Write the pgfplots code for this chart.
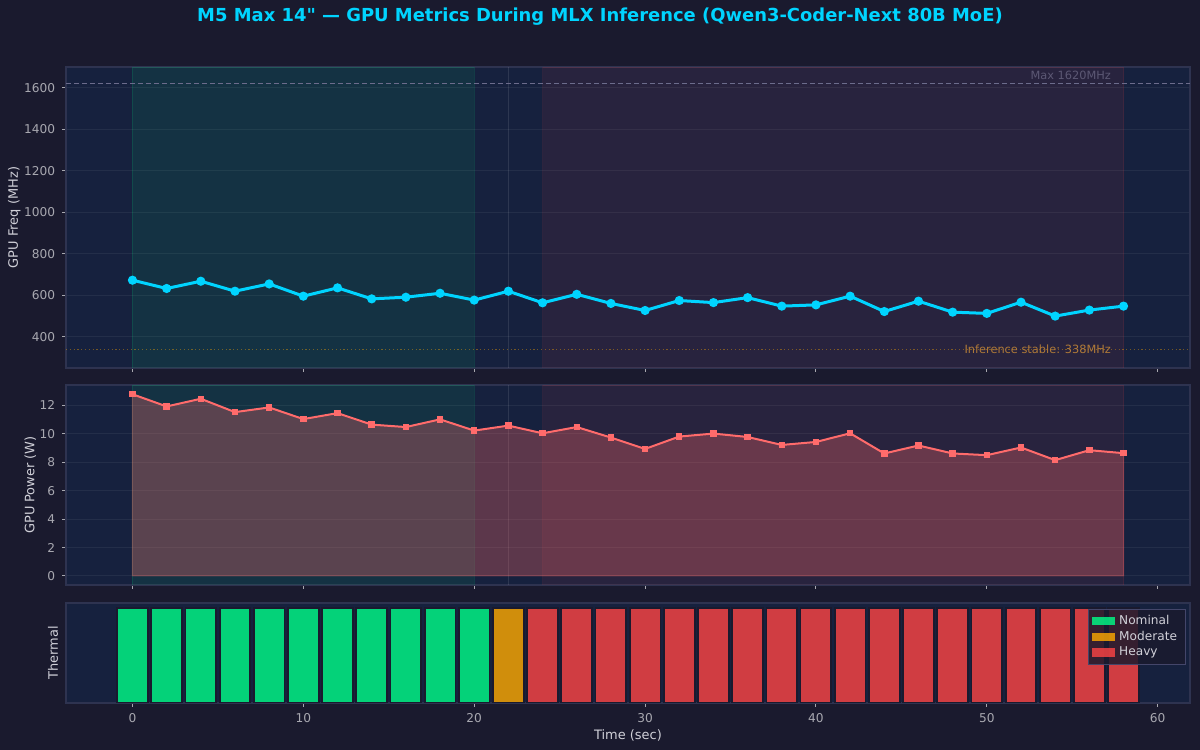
\documentclass[border=0pt]{standalone}
\usepackage{fontspec}
\setmainfont{DejaVu Sans}[Ligatures=TeXOff]
\usepackage{pgfplots}
\usepackage{pgfplotstable}
\pgfplotsset{compat=1.18}

\definecolor{figbg}{HTML}{1A1A2E}
\definecolor{axbg}{HTML}{16213E}
\definecolor{freqc}{HTML}{00D4FF}
\definecolor{powc}{HTML}{FF6B6B}
\definecolor{nomc}{HTML}{00FF88}
\definecolor{modc}{HTML}{FFAA00}
\definecolor{heavyc}{HTML}{FF4444}
\definecolor{spine}{HTML}{2E3350}
\definecolor{tickc}{HTML}{A8A8B0}
\definecolor{labc}{HTML}{D0D0D8}
\definecolor{maxc}{HTML}{6C6C8C}
\definecolor{maxtxt}{HTML}{5C5874}
\definecolor{stabtxt}{HTML}{B07A38}
\definecolor{legedge}{HTML}{44466A}

\pgfplotstableread{
t freq power
0 673 12.79
2 633 11.93
4 668 12.47
6 620 11.53
8 655 11.86
10 596 11.04
12 636 11.46
14 583 10.65
16 591 10.48
18 610 11.02
20 577 10.23
22 620 10.58
24 564 10.04
26 605 10.48
28 561 9.74
30 527 8.94
32 575 9.81
34 565 10.02
36 589 9.78
38 548 9.22
40 554 9.43
42 596 10.04
44 522 8.62
46 572 9.18
48 519 8.62
50 513 8.50
52 567 9.04
54 500 8.15
56 529 8.85
58 548 8.64
}\gpudata

\pgfplotsset{
  panel/.style={
    scale only axis, width=562bp,
    xmin=-3.89, xmax=61.89,
    axis background/.style={fill=axbg},
    axis line style={spine, line width=0.6bp},
    tick style={tickc, line width=0.5bp},
    tick align=outside, major tick length=1.9bp,
    xtick={0,10,...,60},
    xtick pos=bottom, ytick pos=left,
    ticklabel style={font=\fontsize{6.1}{7}\selectfont, text=tickc},
    label style={font=\fontsize{6.5}{8}\selectfont, text=labc},
    /pgf/number format/assume math mode=true,
    /pgf/number format/1000 sep={},
    scaled ticks=false,
    major grid style={white, opacity=0.06, line width=0.5bp},
    clip=true,
  }
}

\begin{document}
\begin{tikzpicture}
\fill[figbg] (0,0) rectangle (600bp,375bp);
\useasboundingbox (0,0) rectangle (600bp,375bp);

\node[font=\bfseries\fontsize{9}{11}\selectfont, text=freqc] at (300bp,366.5bp)
  {M5 Max 14" — GPU Metrics During MLX Inference (Qwen3-Coder-Next 80B MoE)};

% ---------- Frequency panel ----------
\begin{axis}[panel, at={(33bp,191bp)}, anchor=south west, height=150.5bp,
  ymin=250, ymax=1700, ytick={400,600,...,1600}, xticklabels={},
  ymajorgrids, ylabel={GPU Freq (MHz)}, ylabel shift=-5bp]
\addplot[draw=nomc, draw opacity=0.12, fill=nomc, fill opacity=0.08]
  coordinates {(0,250) (20,250) (20,1700) (0,1700)} -- cycle;
\addplot[draw=heavyc, draw opacity=0.1, fill=heavyc, fill opacity=0.08]
  coordinates {(24,250) (58,250) (58,1700) (24,1700)} -- cycle;
\addplot[white, opacity=0.1, line width=0.5bp] coordinates {(22,250) (22,1700)};
\addplot[maxc, line width=0.6bp, dash pattern=on 2.6bp off 1.4bp]
  coordinates {(-3.89,1620) (61.89,1620)};
\addplot[modc, opacity=0.4, line width=0.6bp, dash pattern=on 0.6bp off 1.3bp]
  coordinates {(-3.89,338) (61.89,338)};
\node[anchor=south east, inner sep=1bp, text=maxtxt, font=\fontsize{5.7}{6.5}\selectfont]
  at (axis cs:57.4,1626) {Max 1620MHz};
\node[anchor=east, inner sep=1bp, text=stabtxt, font=\fontsize{5.7}{6.5}\selectfont]
  at (axis cs:57.4,340) {Inference stable: 338MHz};
\addplot[freqc, line width=1.5bp, mark=*, mark size=1.5bp, mark options={fill=freqc, draw=freqc}]
  table[x=t, y=freq] {\gpudata};
\end{axis}

% ---------- Power panel ----------
\begin{axis}[panel, at={(33bp,82.5bp)}, anchor=south west, height=100bp,
  ymin=-0.64, ymax=13.44, ytick={0,2,...,12}, xticklabels={},
  ymajorgrids, ylabel={GPU Power (W)}, ylabel shift=-5bp]
\addplot[draw=nomc, draw opacity=0.12, fill=nomc, fill opacity=0.08]
  coordinates {(0,-0.64) (20,-0.64) (20,13.44) (0,13.44)} -- cycle;
\addplot[draw=heavyc, draw opacity=0.1, fill=heavyc, fill opacity=0.08]
  coordinates {(24,-0.64) (58,-0.64) (58,13.44) (24,13.44)} -- cycle;
\addplot[white, opacity=0.1, line width=0.5bp] coordinates {(22,-0.64) (22,13.44)};
\addplot[draw=powc, draw opacity=0.3, fill=powc, fill opacity=0.3, line width=0.5bp]
  table[x=t, y=power] {\gpudata} \closedcycle;
\addplot[powc, line width=1bp, mark=square*, mark size=1.1bp, mark options={fill=powc, draw=powc}]
  table[x=t, y=power] {\gpudata};
\end{axis}

% ---------- Thermal panel ----------
\begin{axis}[panel, at={(33bp,23.5bp)}, anchor=south west, height=50bp,
  ymin=0, ymax=1.05, ytick=\empty,
  ylabel={Thermal}, ylabel shift=-1.5bp, xlabel={Time (sec)},
  xlabel style={yshift=3.5bp},
  ybar, bar width=1.8, bar shift=0pt,
  legend cell align=left,
  legend style={at={(0.996,0.94)}, anchor=north east,
    fill=figbg, fill opacity=0.85, text opacity=1, draw=legedge, line width=0.5bp,
    font=\fontsize{6.1}{7}\selectfont, text=labc,
    inner xsep=2bp, inner ysep=0.8bp, row sep=-2.2bp},
  legend image code/.code={\fill[#1, draw=none] (0bp,-2.1bp) rectangle (11.5bp,2.1bp);}]
\addplot[fill=nomc, fill opacity=0.8, draw=figbg, line width=0.9bp]
  coordinates {(0,1) (2,1) (4,1) (6,1) (8,1) (10,1) (12,1) (14,1) (16,1) (18,1) (20,1)};
\addlegendentry{Nominal}
\addplot[fill=modc, fill opacity=0.8, draw=figbg, line width=0.9bp]
  coordinates {(22,1)};
\addlegendentry{Moderate}
\addplot[fill=heavyc, fill opacity=0.8, draw=figbg, line width=0.9bp]
  coordinates {(24,1) (26,1) (28,1) (30,1) (32,1) (34,1) (36,1) (38,1) (40,1) (42,1)
               (44,1) (46,1) (48,1) (50,1) (52,1) (54,1) (56,1) (58,1)};
\addlegendentry{Heavy}
\end{axis}
\end{tikzpicture}
\end{document}
